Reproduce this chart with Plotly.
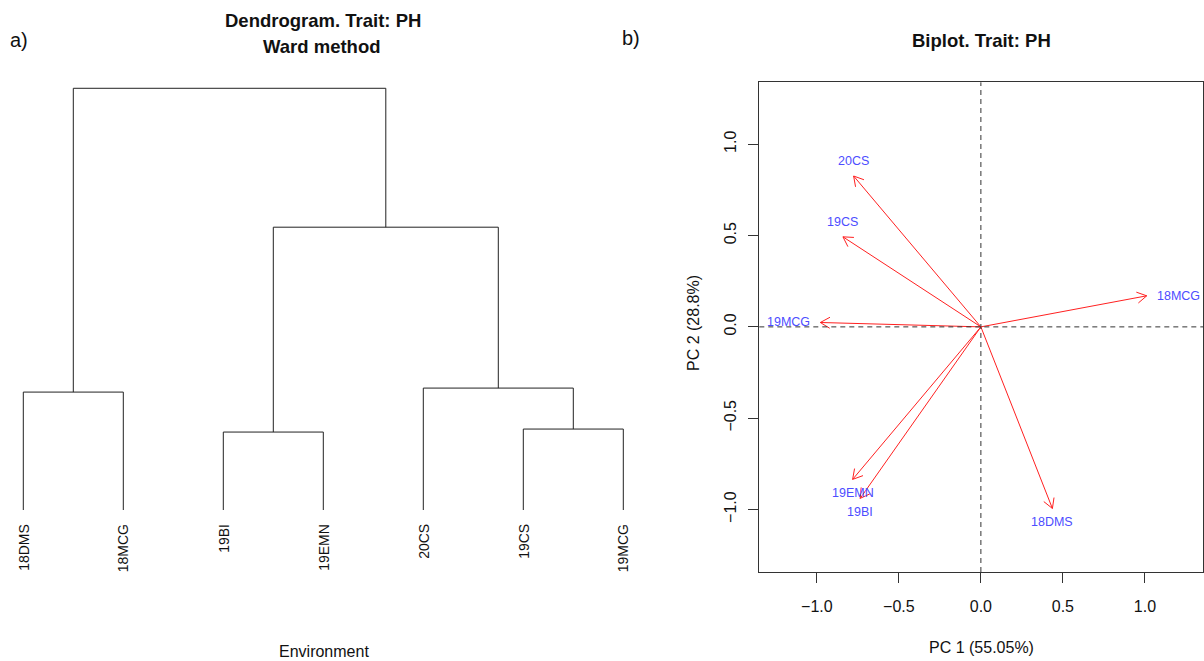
import math
import plotly.graph_objects as go

W, H = 1204, 661

# ---------------- data ----------------
# Dendrogram (Ward), leaves in display order
leaf_labels = ["18DMS", "18MCG", "19BI", "19EMN", "20CS", "19CS", "19MCG"]
# merge table (R hclust style): negative = leaf index (1-based), positive = earlier merge
merge_left = [-3, -6, -1, -5, 1, 3]
merge_right = [-4, -7, -2, 2, 4, 5]
merge_height = [0.78, 0.81, 1.18, 1.22, 2.83, 4.22]

# Biplot loadings
env_names = ["18DMS", "18MCG", "19BI", "19EMN", "20CS", "19CS", "19MCG"]
pc1 = [0.436, 1.011, -0.736, -0.782, -0.776, -0.841, -0.979]
pc2 = [-0.994, 0.170, -0.939, -0.835, 0.826, 0.493, 0.024]
label_side = ["below", "right", "below", "below", "above", "above", "left"]

tick_vals = [-1.0, -0.5, 0.0, 0.5, 1.0]
tick_text = ["\u22121.0", "\u22120.5", "0.0", "0.5", "1.0"]

# ---------------- layout geometry (pixels) ----------------
FONT = "Liberation Sans, Arial, sans-serif"
# dendrogram panel
d_left, d_right, d_top, d_bot = 3.3, 643.3, 71.3, 527.0
d_xr = [0.8, 7.2]
d_yr = [-0.17, 4.39]
# biplot panel
b_left, b_right, b_top, b_bot = 759.3, 1203.3, 82.3, 572.0
b_xr = [-1.351, 1.356]
b_yr = [-1.342, 1.339]


def px_dom(a, b):
    return [a / W, b / W]


def py_dom(top, bot):
    return [1 - bot / H, 1 - top / H]


fig = go.Figure()

# ---------------- dendrogram ----------------
node_x = {}
node_h = {}


def child_pos(c):
    if c < 0:
        return float(-c), 0.0
    return node_x[c], node_h[c]


dx, dy = [], []
for k, (l, r, h) in enumerate(zip(merge_left, merge_right, merge_height), start=1):
    xl, hl = child_pos(l)
    xr, hr = child_pos(r)
    dx += [xl, xl, xr, xr, None]
    dy += [hl, h, h, hr, None]
    node_x[k] = (xl + xr) / 2
    node_h[k] = h

fig.add_trace(go.Scatter(x=dx, y=dy, mode="lines", xaxis="x", yaxis="y",
                         line=dict(color="#222222", width=1), hoverinfo="skip",
                         showlegend=False))

annotations = []
for i, lab in enumerate(leaf_labels, start=1):
    annotations.append(dict(x=i, y=0, xref="x", yref="y", text=lab, showarrow=False,
                            textangle=-90, xanchor="center", yanchor="top", yshift=-12,
                            font=dict(family=FONT, size=14, color="#111111")))

# ---------------- biplot ----------------
kx = (b_right - b_left) / (b_xr[1] - b_xr[0])
ky = (b_bot - b_top) / (b_yr[1] - b_yr[0])
head_len = 11.0
head_ang = math.radians(30)

ax_, ay_ = [], []
for x, y in zip(pc1, pc2):
    ax_ += [0, x, None]
    ay_ += [0, y, None]
    th = math.atan2(y * ky, x * kx)
    for s in (1, -1):
        a = th + s * head_ang
        hx = x - head_len * math.cos(a) / kx
        hy = y - head_len * math.sin(a) / ky
        ax_ += [x, hx, None]
        ay_ += [y, hy, None]

fig.add_trace(go.Scatter(x=ax_, y=ay_, mode="lines", xaxis="x2", yaxis="y2",
                         line=dict(color="#ff2020", width=1), hoverinfo="skip",
                         showlegend=False))

shift = {"above": (0, 15), "below": (0, -14), "left": (-32, 0), "right": (32, 0)}
for name, x, y, side in zip(env_names, pc1, pc2, label_side):
    sx, sy = shift[side]
    annotations.append(dict(x=x, y=y, xref="x2", yref="y2", text=name, showarrow=False,
                            xanchor="center", yanchor="middle", xshift=sx, yshift=sy,
                            font=dict(family=FONT, size=12.5, color="#4d4dff")))

shapes = [
    dict(type="line", xref="x2 domain", yref="y2", x0=0, x1=1, y0=0, y1=0,
         line=dict(color="#333333", width=1, dash="5px,4px")),
    dict(type="line", xref="x2", yref="y2 domain", x0=0, x1=0, y0=0, y1=1,
         line=dict(color="#333333", width=1, dash="5px,4px")),
]

# titles and axis titles
annotations += [
    dict(x=19 / W, y=1 - 40 / H, xref="paper", yref="paper", text="a)", showarrow=False,
         xanchor="center", yanchor="middle", font=dict(family=FONT, size=20, color="#111111")),
    dict(x=631 / W, y=1 - 38 / H, xref="paper", yref="paper", text="b)", showarrow=False,
         xanchor="center", yanchor="middle", font=dict(family=FONT, size=20, color="#111111")),
    dict(x=323 / W, y=1 - 21 / H, xref="paper", yref="paper", text="<b>Dendrogram. Trait: PH</b>",
         showarrow=False, xanchor="center", yanchor="middle",
         font=dict(family=FONT, size=18.5, color="#111111")),
    dict(x=322 / W, y=1 - 46 / H, xref="paper", yref="paper", text="<b>Ward method</b>",
         showarrow=False, xanchor="center", yanchor="middle",
         font=dict(family=FONT, size=18.5, color="#111111")),
    dict(x=981 / W, y=1 - 40 / H, xref="paper", yref="paper", text="<b>Biplot. Trait: PH</b>",
         showarrow=False, xanchor="center", yanchor="middle",
         font=dict(family=FONT, size=18.5, color="#111111")),
    dict(x=324 / W, y=1 - 651 / H, xref="paper", yref="paper", text="Environment",
         showarrow=False, xanchor="center", yanchor="middle",
         font=dict(family=FONT, size=16, color="#111111")),
    dict(x=981 / W, y=1 - 647 / H, xref="paper", yref="paper", text="PC 1 (55.05%)",
         showarrow=False, xanchor="center", yanchor="middle",
         font=dict(family=FONT, size=16, color="#111111")),
    dict(x=693 / W, y=1 - 323 / H, xref="paper", yref="paper", text="PC 2 (28.8%)",
         showarrow=False, xanchor="center", yanchor="middle", textangle=-90,
         font=dict(family=FONT, size=16, color="#111111")),
]

hidden = dict(showgrid=False, zeroline=False, showticklabels=False, showline=False,
              ticks="", fixedrange=True)
biax = dict(showgrid=False, zeroline=False, showline=True, mirror=True, linecolor="#333333",
            linewidth=1, ticks="outside", ticklen=10, tickwidth=1, tickcolor="#333333",
            tickvals=tick_vals, ticktext=tick_text,
            tickfont=dict(family=FONT, size=16, color="#111111"))

fig.update_layout(
    width=W, height=H, margin=dict(l=0, r=0, t=0, b=0),
    paper_bgcolor="white", plot_bgcolor="white", showlegend=False,
    xaxis=dict(domain=px_dom(d_left, d_right), range=d_xr, anchor="y", **hidden),
    yaxis=dict(domain=py_dom(d_top, d_bot), range=d_yr, anchor="x", **hidden),
    xaxis2=dict(domain=px_dom(b_left, b_right), range=b_xr, anchor="y2",
                ticklabelstandoff=10, **biax),
    yaxis2=dict(domain=py_dom(b_top, b_bot), range=b_yr, anchor="x2", tickangle=-90,
                ticklabelstandoff=6, **biax),
    annotations=annotations, shapes=shapes,
)

fig.write_html("out.html")
